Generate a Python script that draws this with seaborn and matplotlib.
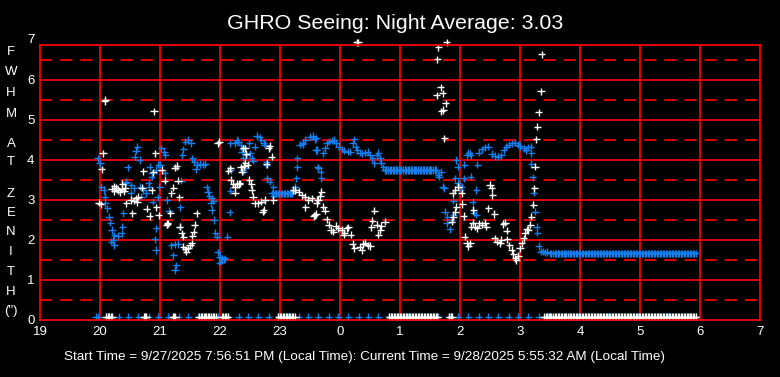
import matplotlib
matplotlib.use("Agg")
import pandas as pd
import matplotlib.pyplot as plt
import seaborn as sns

# Textos do grafico
TITULO = "GHRO Seeing: Night Average: 3.03"
RODAPE = ("Start Time = 9/27/2025 7:56:51 PM (Local Time): "
          "Current Time = 9/28/2025 5:55:32 AM (Local Time)")
LETRAS_Y = ["F", "W", "H", "M", "A", "T", "Z", "E", "N", "I", "T", "H", '(")']
HORAS_TICKS = list(range(19, 32))
HORAS_LABELS = ["19", "20", "21", "22", "23", "0", "1", "2", "3", "4", "5", "6", "7"]
FWHM_TICKS = [0, 1, 2, 3, 4, 5, 6]

# Serie azul: (hora, fwhm); horas depois da meia-noite seguem como 24, 25, ...
PONTOS_AZUL = [
    (19.96, 4.04), (20.0, 3.92), (20.02, 3.33), (20.06, 3.25), (20.08, 3.08), (20.09, 2.92),
    (20.12, 2.79), (20.15, 2.58), (20.17, 2.43), (20.2, 2.25), (20.24, 2.12), (20.3, 2.11),
    (20.36, 2.17), (20.37, 2.33), (20.22, 2.0), (20.24, 1.87), (20.19, 1.96), (20.39, 2.67),
    (20.44, 3.46), (20.46, 3.82), (20.58, 4.08), (20.6, 4.23), (20.62, 4.33), (20.66, 4.0),
    (20.43, 3.43), (20.52, 3.37), (20.56, 3.29), (20.51, 3.17), (20.67, 3.33), (20.72, 3.25),
    (20.77, 3.17), (20.69, 3.08), (20.82, 3.33), (20.83, 3.83), (20.86, 3.58), (20.88, 2.96),
    (20.96, 3.07), (20.99, 3.33), (21.0, 3.88), (21.02, 4.29), (21.07, 4.21), (21.09, 4.12),
    (20.94, 2.29), (20.91, 2.02), (20.93, 1.75), (21.12, 3.0), (20.97, 3.88), (20.94, 3.75),
    (20.86, 3.67), (20.81, 3.42), (21.08, 3.67), (21.15, 2.73), (21.35, 3.48), (21.42, 4.46),
    (21.47, 4.5), (21.52, 4.42), (21.39, 4.27), (21.37, 4.12), (21.54, 4.04), (21.57, 3.96),
    (21.61, 3.88), (21.67, 3.9), (21.72, 3.88), (21.75, 3.9), (21.6, 3.77), (21.78, 3.32),
    (21.8, 3.21), (21.82, 3.1), (21.86, 3.04), (21.89, 2.98), (21.85, 2.92), (21.86, 2.75),
    (21.9, 2.5), (21.92, 2.18), (21.95, 2.08), (22.12, 2.08), (22.16, 2.69), (21.96, 1.69),
    (22.0, 1.58), (22.03, 1.54), (22.06, 1.52), (22.08, 1.54), (22.02, 1.46), (21.99, 1.43),
    (21.33, 2.33), (21.34, 2.82), (21.19, 1.87), (21.25, 1.89), (21.3, 1.9), (21.22, 1.62),
    (21.27, 1.37), (21.25, 1.25), (22.25, 4.42), (22.3, 4.46), (22.35, 4.38), (22.37, 4.27),
    (22.39, 4.04), (22.38, 3.75), (22.18, 3.75), (22.17, 3.23), (22.17, 4.42), (22.28, 4.5),
    (22.61, 4.6), (22.66, 4.57), (22.69, 4.5), (22.73, 4.42), (22.75, 4.38), (22.58, 4.33),
    (22.49, 4.42), (22.36, 4.21), (22.5, 4.17), (22.44, 4.12), (22.53, 4.04), (22.55, 3.98),
    (22.42, 3.79), (22.39, 3.71), (22.78, 3.96), (22.77, 3.88), (22.79, 3.54), (22.83, 3.46),
    (22.89, 3.32), (22.89, 3.1), (23.25, 3.33), (23.27, 3.54), (23.29, 3.82), (23.29, 4.04),
    (23.33, 4.38), (23.38, 4.42), (23.42, 4.5), (23.5, 4.58), (23.55, 4.6), (23.6, 4.54),
    (23.6, 4.25), (23.64, 3.81), (23.38, 4.4), (23.58, 4.52), (23.61, 4.25), (23.72, 4.17),
    (23.75, 4.29), (23.78, 4.42), (23.82, 4.46), (23.86, 4.48), (23.9, 4.5), (23.94, 4.42),
    (23.98, 4.33), (24.03, 4.27), (24.07, 4.23), (24.13, 4.21), (24.17, 4.21), (24.21, 4.42),
    (24.24, 4.52), (24.26, 4.33), (24.29, 4.25), (24.33, 4.18), (24.37, 4.17), (24.42, 4.18),
    (24.46, 4.21), (24.5, 4.12), (24.54, 4.04), (24.57, 3.92), (24.61, 4.12), (24.64, 4.18),
    (24.67, 4.04), (24.69, 3.93), (24.72, 3.82), (23.63, 3.82), (23.68, 3.71), (23.69, 3.54),
    (25.64, 3.63), (25.65, 3.58), (25.69, 3.71), (25.71, 3.33), (25.74, 3.29), (25.92, 3.54),
    (25.96, 3.43), (25.99, 3.38), (26.03, 3.33), (26.06, 3.54), (26.18, 3.58), (26.01, 3.25),
    (25.94, 4.0), (25.96, 3.83), (26.07, 3.88), (26.11, 4.12), (26.14, 4.18), (26.18, 4.12),
    (26.29, 3.88), (26.31, 4.18), (26.27, 3.25), (25.89, 2.98), (25.75, 2.71), (25.79, 2.58),
    (25.78, 2.42), (25.83, 2.27), (25.86, 2.5), (25.89, 2.63), (26.21, 2.96), (26.23, 2.68),
    (26.27, 2.63), (26.16, 4.17), (26.36, 4.27), (26.42, 4.32), (26.47, 4.33), (26.53, 4.15),
    (26.58, 4.1), (26.64, 4.08), (26.69, 4.12), (26.73, 4.25), (26.77, 4.33), (26.81, 4.38),
    (26.86, 4.42), (26.92, 4.43), (26.96, 4.38), (27.0, 4.35), (27.06, 4.29), (27.1, 4.25),
    (27.14, 4.32), (27.18, 4.33), (27.19, 4.17), (27.19, 3.9), (27.21, 3.57), (27.23, 3.18),
    (27.25, 2.71), (27.28, 2.33), (27.29, 2.18), (27.31, 1.85), (27.35, 1.71), (27.38, 1.72),
    (27.42, 1.68), (27.45, 1.7),
]

# Trechos azuis constantes
AZUL_317_HORAS = [22.86, 22.885, 22.91, 22.935, 22.96, 22.985, 23.01, 23.035, 23.06,
                  23.085, 23.11, 23.135, 23.16, 23.185, 23.2]
AZUL_317_VALOR = 3.17
AZUL_375_HORAS = [24.75, 24.775, 24.8, 24.825, 24.85, 24.875, 24.9, 24.925, 24.95, 24.975,
                  25.0, 25.025, 25.05, 25.075, 25.1, 25.125, 25.15, 25.175, 25.2, 25.225,
                  25.25, 25.275, 25.3, 25.325, 25.35, 25.375, 25.4, 25.425, 25.45, 25.475,
                  25.5, 25.525, 25.55, 25.575, 25.6]
AZUL_375_VALOR = 3.75
# leituras do fim da noite (3:30 em diante), usadas pelas duas series
HORAS_FINAL = [27.5, 27.525, 27.55, 27.575, 27.6, 27.625, 27.65, 27.675, 27.7, 27.725,
               27.75, 27.775, 27.8, 27.825, 27.85, 27.875, 27.9, 27.925, 27.95, 27.975,
               28.0, 28.025, 28.05, 28.075, 28.1, 28.125, 28.15, 28.175, 28.2, 28.225,
               28.25, 28.275, 28.3, 28.325, 28.35, 28.375, 28.4, 28.425, 28.45, 28.475,
               28.5, 28.525, 28.55, 28.575, 28.6, 28.625, 28.65, 28.675, 28.7, 28.725,
               28.75, 28.775, 28.8, 28.825, 28.85, 28.875, 28.9, 28.925, 28.95, 28.975,
               29.0, 29.025, 29.05, 29.075, 29.1, 29.125, 29.15, 29.175, 29.2, 29.225,
               29.25, 29.275, 29.3, 29.325, 29.35, 29.375, 29.4, 29.425, 29.45, 29.475,
               29.5, 29.525, 29.55, 29.575, 29.6, 29.625, 29.65, 29.675, 29.7, 29.725,
               29.75, 29.775, 29.8, 29.825, 29.85, 29.875, 29.9, 29.93]
AZUL_167_VALOR = 1.67

# Leituras nulas (linha de baixo)
ZERO_VALOR = 0.08
AZUL_ZERO_HORAS = [19.93, 19.97, 20.14, 20.31, 20.47, 20.64, 20.81, 20.97, 21.14, 21.31,
                   21.47, 21.64, 21.81, 21.97, 22.14, 22.31, 22.47, 22.64, 22.81, 22.97,
                   23.14, 23.31, 23.47, 23.64, 23.81, 23.97, 24.14, 24.31, 24.47, 24.64,
                   24.81, 24.97, 25.14, 25.31, 25.47, 25.64, 25.81, 25.97, 26.14, 26.31,
                   26.47, 26.64, 26.81, 26.97, 27.14, 27.31, 27.47, 27.64, 27.81, 27.97,
                   28.14, 28.31, 28.47, 28.64, 28.81, 28.97, 29.14, 29.31, 29.47, 29.64,
                   29.81, 29.93]
BRANCO_ZERO_HORAS = [20.1, 20.125, 20.15, 20.175, 20.2, 20.73, 20.75, 20.77, 21.21, 21.23,
                     21.25, 21.65, 21.675, 21.7, 21.725, 21.75, 21.775, 21.8, 21.825,
                     21.85, 21.875, 21.9, 21.93, 22.03, 22.055, 22.08, 22.105, 22.13,
                     22.97, 22.995, 23.02, 23.045, 23.07, 23.095, 23.12, 23.145, 23.17,
                     23.195, 23.22, 23.25, 24.82, 24.845, 24.87, 24.895, 24.92, 24.945,
                     24.97, 24.995, 25.02, 25.045, 25.07, 25.095, 25.12, 25.145, 25.17,
                     25.195, 25.22, 25.245, 25.27, 25.295, 25.32, 25.345, 25.37, 25.395,
                     25.42, 25.445, 25.47, 25.495, 25.52, 25.545, 25.57, 25.595, 25.62,
                     25.82, 25.845, 25.87, 27.4, 27.425, 27.45, 27.475]

# Serie branca: (hora, fwhm)
PONTOS_BRANCO = [
    (20.08, 5.47), (20.09, 5.5), (20.9, 5.22), (20.05, 4.17), (20.03, 3.77), (20.92, 4.17),
    (20.72, 3.72), (20.89, 3.69), (21.03, 3.75), (21.08, 3.48), (20.2, 3.28), (20.24, 3.22),
    (20.27, 3.3), (20.3, 3.25), (20.33, 3.2), (20.36, 3.28), (20.4, 3.22), (20.42, 3.3),
    (20.24, 3.34), (20.37, 3.4), (19.98, 2.93), (20.01, 2.89), (20.44, 2.92), (20.51, 3.0),
    (20.6, 3.04), (20.64, 3.08), (20.7, 3.31), (20.86, 3.24), (20.54, 2.67), (20.78, 2.78),
    (20.83, 2.6), (20.94, 2.82), (20.98, 2.62), (21.12, 2.4), (20.57, 2.98), (20.62, 2.95),
    (21.25, 3.81), (21.28, 3.85), (21.3, 3.48), (21.22, 3.31), (21.19, 3.17), (21.32, 3.07),
    (21.17, 2.67), (21.13, 2.42), (21.11, 2.38), (21.61, 2.67), (21.33, 2.33), (21.36, 2.17),
    (21.39, 2.08), (21.58, 2.38), (21.56, 2.21), (21.54, 2.11), (21.39, 1.83), (21.42, 1.77),
    (21.44, 1.71), (21.47, 1.79), (21.5, 1.87), (21.53, 1.92), (21.96, 4.42), (21.99, 4.46),
    (22.14, 3.73), (22.17, 3.79), (22.18, 3.5), (22.22, 3.4), (22.25, 3.33), (22.28, 3.4),
    (22.25, 3.18), (22.32, 3.4), (22.35, 3.82), (22.42, 4.29), (22.39, 4.29), (22.44, 4.15),
    (22.42, 3.93), (22.4, 3.85), (22.36, 3.71), (22.46, 3.88), (22.81, 4.29), (22.83, 4.35),
    (22.86, 4.08), (22.78, 3.9), (22.49, 3.5), (22.52, 3.4), (22.53, 3.25), (22.55, 3.08),
    (22.58, 2.92), (22.64, 2.92), (22.69, 2.96), (22.75, 3.0), (22.89, 3.0), (22.71, 2.71),
    (22.73, 2.75), (22.33, 3.42), (23.22, 3.25), (23.25, 3.25), (23.31, 3.21), (23.36, 3.12),
    (23.42, 3.08), (23.47, 3.0), (23.53, 3.04), (23.62, 3.0), (23.42, 2.82), (23.56, 2.6),
    (23.6, 2.65), (23.69, 3.21), (23.67, 3.1), (23.64, 3.0), (23.61, 2.92), (23.58, 2.62),
    (23.72, 2.83), (23.75, 2.73), (23.78, 2.52), (23.81, 2.38), (23.85, 2.25), (23.89, 2.21),
    (23.93, 2.35), (23.97, 2.29), (24.03, 2.25), (24.07, 2.18), (24.11, 2.29), (24.14, 2.32),
    (24.18, 2.13), (24.06, 2.13), (24.57, 2.73), (24.54, 2.48), (24.52, 2.32), (24.64, 2.13),
    (24.67, 2.25), (24.69, 2.35), (24.75, 2.46), (24.61, 2.38), (24.21, 1.9), (24.24, 1.79),
    (24.33, 1.83), (24.39, 1.9), (24.42, 1.93), (24.46, 1.87), (24.5, 1.85), (24.36, 1.75),
    (24.28, 6.94), (24.3, 6.94), (25.78, 6.94), (25.64, 6.82), (25.62, 6.52), (25.68, 5.82),
    (25.71, 5.67), (25.61, 5.62), (25.76, 5.42), (25.69, 5.22), (25.72, 5.25), (25.74, 4.54),
    (25.88, 3.17), (25.92, 3.25), (26.03, 3.17), (25.97, 3.33), (25.94, 2.83), (25.92, 2.71),
    (25.89, 2.58), (25.86, 2.46), (26.04, 2.9), (26.06, 2.6), (26.22, 2.75), (26.21, 2.43),
    (26.25, 2.33), (26.29, 2.29), (26.08, 2.08), (26.11, 1.92), (26.14, 1.85), (26.17, 1.92),
    (26.19, 2.33), (26.31, 2.42), (26.36, 2.38), (26.42, 2.43), (26.44, 2.33), (26.47, 2.79),
    (26.57, 2.65), (26.5, 3.38), (26.53, 3.29), (26.54, 3.12), (26.58, 2.04), (26.61, 1.96),
    (26.67, 1.92), (26.69, 2.0), (26.72, 2.4), (26.75, 2.43), (26.78, 2.23), (26.79, 2.02),
    (26.82, 1.87), (26.86, 1.75), (26.89, 1.65), (26.92, 1.54), (26.94, 1.5), (26.97, 1.6),
    (27.0, 1.79), (27.03, 1.92), (27.06, 2.04), (27.08, 2.17), (27.11, 2.27), (27.14, 2.25),
    (27.17, 2.38), (27.19, 2.58), (27.22, 2.88), (27.24, 3.29), (27.25, 3.83), (27.27, 4.52),
    (27.29, 4.83), (27.31, 5.19), (27.35, 5.72), (27.36, 6.64),
]

COR_AZUL = "#1480F0"
COR_BRANCO = "#FFFFFF"
COR_GRADE = "#FF0000"


def montar_tabela():
    linhas = []
    for h, v in PONTOS_AZUL:
        linhas.append((h, v, "azul"))
    for horas, valor in [(AZUL_317_HORAS, AZUL_317_VALOR), (AZUL_375_HORAS, AZUL_375_VALOR),
                         (HORAS_FINAL, AZUL_167_VALOR), (AZUL_ZERO_HORAS, ZERO_VALOR)]:
        for h in horas:
            linhas.append((h, valor, "azul"))
    for h, v in PONTOS_BRANCO:
        linhas.append((h, v, "branco"))
    for h in BRANCO_ZERO_HORAS + HORAS_FINAL:
        linhas.append((h, ZERO_VALOR, "branco"))
    return pd.DataFrame(linhas, columns=["hora", "fwhm", "serie"])


def main():
    sns.set_style("dark", rc={"axes.facecolor": "black", "figure.facecolor": "black"})
    plt.rcParams["font.family"] = ["Liberation Sans", "DejaVu Sans"]

    df = montar_tabela()

    fig = plt.figure(figsize=(7.8, 3.77), dpi=100)
    ax = fig.add_axes([40 / 780, 57 / 377, 720 / 780, 275 / 377])
    ax.set_facecolor("black")

    lw = 1.25
    for h in HORAS_TICKS[1:-1]:
        ax.axvline(h, color=COR_GRADE, lw=lw, zorder=0.5)
    for y in FWHM_TICKS[1:]:
        ax.axhline(y, color=COR_GRADE, lw=lw, zorder=0.5)
    for y in [0.5, 1.5, 2.5, 3.5, 4.5, 5.5, 6.5]:
        ax.axhline(y, color=COR_GRADE, lw=lw, ls=(0, (7, 4.6)), zorder=0.5)

    sns.scatterplot(data=df, x="hora", y="fwhm", hue="serie",
                    palette={"azul": COR_AZUL, "branco": COR_BRANCO},
                    marker="+", s=26, linewidth=1.0, legend=False, ax=ax, zorder=2)
    for col in ax.collections:
        col.set_clip_on(False)

    ax.set_xlim(19, 31)
    ax.set_ylim(0, 6.875)
    ax.set_xticks(HORAS_TICKS)
    ax.set_xticklabels(HORAS_LABELS)
    ax.set_yticks(FWHM_TICKS)
    ax.set_yticklabels([str(t) for t in FWHM_TICKS])
    ax.tick_params(colors="white", labelsize=9.5, length=0, pad=4)
    ax.annotate("7", xy=(0, 7), xycoords=("axes fraction", "data"), xytext=(-4, 0),
                textcoords="offset points", ha="right", va="center", color="white",
                fontsize=9.5, annotation_clip=False)
    ax.set_xlabel("")
    ax.set_ylabel("")
    for sp in ax.spines.values():
        sp.set_visible(True)
        sp.set_color(COR_GRADE)
        sp.set_linewidth(lw)
        sp.set_zorder(3)

    fig.text(395 / 780, 1 - 29 / 377, TITULO, color="white", fontsize=15.4,
             ha="center", va="baseline")
    fig.text(364 / 780, 1 - 360 / 377, RODAPE, color="white", fontsize=9.7,
             ha="center", va="baseline")

    posicoes_y = [52, 72, 93, 114, 144, 162, 194, 213, 232, 252, 272, 292, 311]
    for letra, py in zip(LETRAS_Y, posicoes_y):
        fig.text(11 / 780, 1 - py / 377, letra, color="white", fontsize=9.5,
                 ha="center", va="center")

    fig.savefig("out.png", dpi=100, facecolor="black")


if __name__ == "__main__":
    main()
